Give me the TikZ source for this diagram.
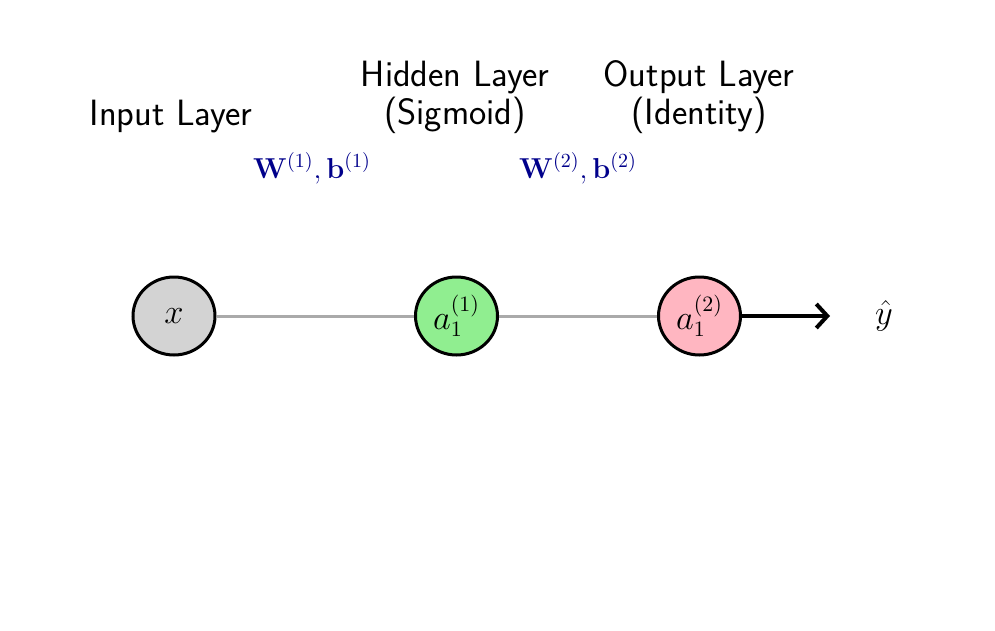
\documentclass[tikz,border=0pt]{standalone}
\usepackage{amsmath}
\usetikzlibrary{shapes.geometric,arrows.meta}
\definecolor{nodegray}{HTML}{D3D3D3}
\definecolor{nodegreen}{HTML}{90EE90}
\definecolor{nodepink}{HTML}{FFB6C1}
\definecolor{edgegray}{HTML}{AAAAAA}
\definecolor{labelblue}{HTML}{00008B}
\begin{document}
\begin{tikzpicture}[x=0.5pt,y=-0.5pt,
  neuron/.style={ellipse,draw=black,line width=1.5pt,minimum width=41pt,minimum height=39pt,inner sep=0pt,font=\fontsize{16}{18}\selectfont},
  title/.style={font=\sffamily\fontsize{18.3}{22}\selectfont,align=center,anchor=base},
  wlabel/.style={text=labelblue,font=\fontsize{14}{16}\selectfont,anchor=base},
  conn/.style={draw=edgegray,line width=1.5pt},
  outarrow/.style={draw=black,line width=2pt,-{Straight Barb[length=5.5pt,width=12pt]}}
]
\useasboundingbox (0,0) rectangle (995,631);
\node[neuron,fill=nodegray] (x) at (174,316) {$x$};
\node[neuron,fill=nodegreen] (h) at (456.5,316) {$a_1^{(1)}$};
\node[neuron,fill=nodepink] (o) at (699.5,316) {$a_1^{(2)}$};
\coordinate (tip) at (830,316);
\node[font=\fontsize{16}{18}\selectfont] (yhat) at (884,316) {$\hat{y}$};
\draw[conn] (x) -- (h);
\draw[conn] (h) -- (o);
\draw[outarrow] (o) -- (tip);
\node[title] (tin) at (171,126) {Input Layer};
\node[title] (thid) at (455,87) {Hidden Layer};
\node[title] (thid2) at (455,125) {(Sigmoid)};
\node[title] (tout) at (699,87) {Output Layer};
\node[title] (tout2) at (699,125) {(Identity)};
\node[wlabel] (w1) at (312,178) {$\mathbf{W}^{(1)},\mathbf{b}^{(1)}$};
\node[wlabel] (w2) at (578,178) {$\mathbf{W}^{(2)},\mathbf{b}^{(2)}$};
\end{tikzpicture}
\end{document}
